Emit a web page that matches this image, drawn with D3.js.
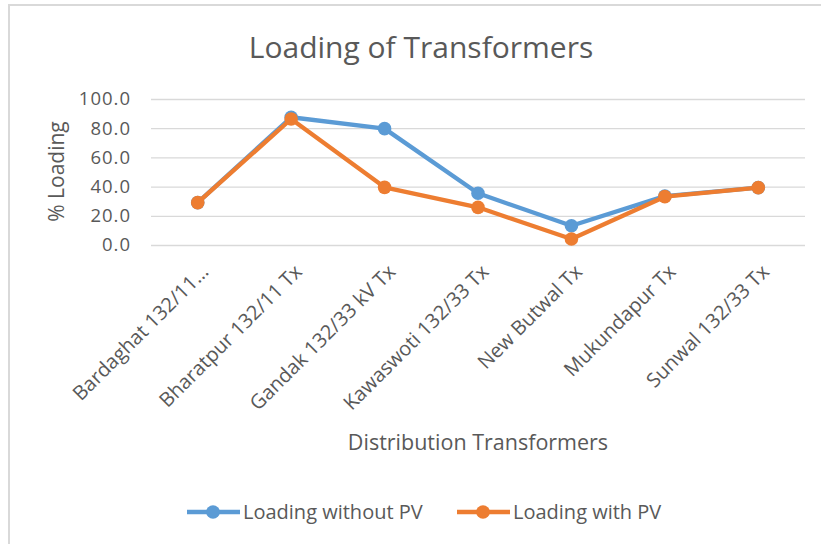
<!DOCTYPE html>
<meta charset="utf-8">
<title>Loading of Transformers</title>
<style>
body { margin: 0; background: #fff; }
text { font-family: "Open Sans", "Noto Sans", sans-serif; fill: #595959; }
.grid line { stroke: #d9d9d9; stroke-width: 1.3px; }
.line { fill: none; stroke-width: 4.3px; stroke-linejoin: round; }
</style>
<script src="https://d3js.org/d3.v7.min.js"></script>
<body>
<script>
var width = 821;
var height = 544;

// chart values
var categories = ["Bardaghat 132/11…", "Bharatpur 132/11 Tx", "Gandak 132/33 kV Tx",
  "Kawaswoti 132/33 Tx", "New Butwal Tx", "Mukundapur Tx", "Sunwal 132/33 Tx"];
var withoutPV = [29.0, 87.5, 79.7, 35.4, 13.2, 33.5, 39.3];
var withPV = [29.0, 86.3, 39.5, 25.8, 4.1, 33.1, 39.3];
var yTicks = [0, 20, 40, 60, 80, 100];
var seriesNames = ["Loading without PV", "Loading with PV"];
var colors = ["#5b9bd5", "#ed7d31"];

var margin = {top: 99, right: 16, bottom: 299, left: 151};
var innerW = 805 - margin.left;
var innerH = 245 - margin.top;

var svg = d3.select("body").append("svg")
    .attr("width", width)
    .attr("height", height);

// chart border
svg.append("rect")
    .attr("x", 9).attr("y", 5)
    .attr("width", width + 10).attr("height", height + 10)
    .attr("fill", "none")
    .attr("stroke", "#d9d9d9")
    .attr("stroke-width", 2);

var g = svg.append("g")
    .attr("transform", "translate(" + margin.left + "," + margin.top + ")");

var x = d3.scaleBand()
    .domain(categories)
    .range([0, innerW]);

var y = d3.scaleLinear()
    .domain([0, 100])
    .range([innerH, 0]);

// gridlines
g.append("g")
    .attr("class", "grid")
    .call(d3.axisLeft(y).tickValues(yTicks).tickSize(-innerW).tickFormat(""))
    .call(function(s) { s.select(".domain").remove(); });

// y tick labels
var yAxis = g.append("g")
    .call(d3.axisLeft(y).tickValues(yTicks).tickSize(0).tickPadding(20).tickFormat(d3.format(".1f")));
yAxis.select(".domain").remove();
yAxis.selectAll("text")
    .attr("font-size", 18.5)
    .attr("letter-spacing", 1)
    .attr("font-family", null)
    .attr("fill", null);

// x tick labels
var xAxis = g.append("g")
    .attr("transform", "translate(0," + innerH + ")")
    .call(d3.axisBottom(x).tickSize(0).tickPadding(0));
xAxis.select(".domain").remove();
xAxis.selectAll("text")
    .attr("font-size", 20)
    .attr("font-family", null)
    .attr("fill", null)
    .attr("text-anchor", "end")
    .attr("dy", null)
    .attr("y", null)
    .attr("transform", "translate(12,28) rotate(-45)");

// lines and markers
var series = [withoutPV, withPV];
var line = d3.line()
    .x(function(d, i) { return x(categories[i]) + x.bandwidth() / 2; })
    .y(function(d) { return y(d); });

series.forEach(function(vals, k) {
  g.append("path")
      .datum(vals)
      .attr("class", "line")
      .attr("stroke", colors[k])
      .attr("d", line);
  g.selectAll(".dot" + k)
      .data(vals)
    .enter().append("circle")
      .attr("cx", function(d, i) { return x(categories[i]) + x.bandwidth() / 2; })
      .attr("cy", function(d) { return y(d); })
      .attr("r", 6.8)
      .attr("fill", colors[k]);
});

// titles
svg.append("text")
    .attr("x", 421).attr("y", 58)
    .attr("text-anchor", "middle")
    .attr("font-size", 30)
    .text("Loading of Transformers");

svg.append("text")
    .attr("transform", "translate(64,171.5) rotate(-90)")
    .attr("text-anchor", "middle")
    .attr("font-size", 21)
    .text("% Loading");

svg.append("text")
    .attr("x", margin.left + innerW / 2).attr("y", 450)
    .attr("text-anchor", "middle")
    .attr("font-size", 21.5)
    .text("Distribution Transformers");

// legend
var legendX = [187, 457];
var legend = svg.selectAll(".legend")
    .data(seriesNames)
  .enter().append("g")
    .attr("class", "legend")
    .attr("transform", function(d, i) { return "translate(" + legendX[i] + ",512)"; });
legend.append("line")
    .attr("x1", 0).attr("x2", 53)
    .attr("stroke", function(d, i) { return colors[i]; })
    .attr("stroke-width", 4.3);
legend.append("circle")
    .attr("cx", 26).attr("r", 6.8)
    .attr("fill", function(d, i) { return colors[i]; });
legend.append("text")
    .attr("x", 56).attr("dy", "0.35em")
    .attr("font-size", 20)
    .text(function(d) { return d; });
</script>
